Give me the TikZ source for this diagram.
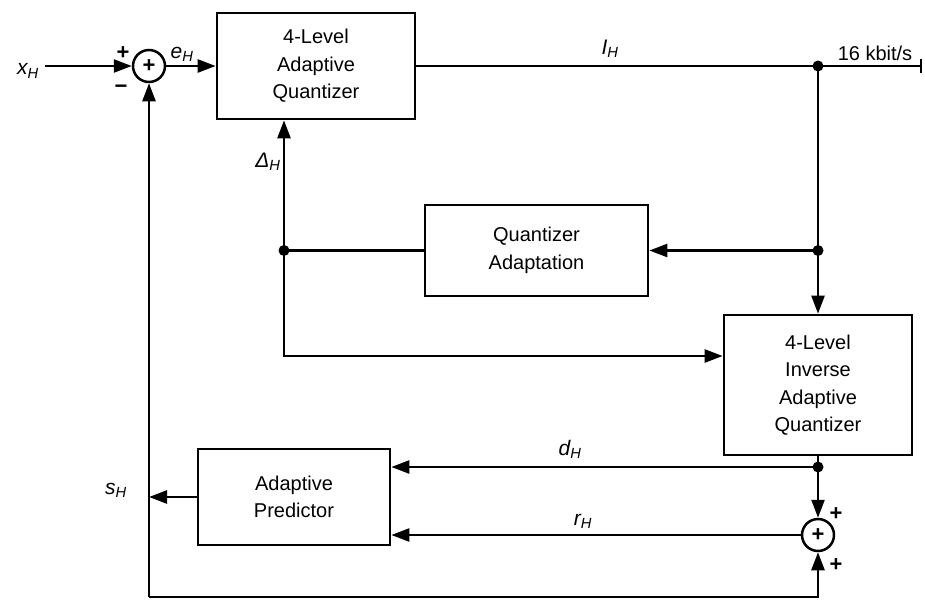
\documentclass[tikz,border=0pt]{standalone}
\usepackage{fontspec}
\setmainfont{Liberation Sans}
\usetikzlibrary{arrows.meta}
\begin{document}
\begin{tikzpicture}[x=1pt,y=-1pt,
  line width=2.5pt,
  >={Triangle[length=18pt,width=13pt]},
  blk/.style={draw, line width=2.7pt, align=center, font=\fontsize{20}{27.5}\selectfont, inner sep=0pt},
  sumnode/.style={draw, circle, minimum size=32pt, inner sep=0pt, line width=2.5pt, font=\fontsize{22}{22}\selectfont\bfseries},
  lbl/.style={font=\fontsize{21}{22}\selectfont\itshape, inner sep=0pt},
  sgn/.style={font=\fontsize{22}{22}\selectfont\bfseries, inner sep=0pt},
  dotn/.style={circle, fill, minimum size=11pt, inner sep=0pt}]
\useasboundingbox (0,0) rectangle (925,613);

% blocks
\node[sumnode] (sum1) at (149,66) {+};
\node[blk, minimum width=198pt, minimum height=106pt] (aq) at (316,66) {4-Level\\Adaptive\\Quantizer};
\node[blk, minimum width=223pt, minimum height=91pt] (qa) at (536.5,250.5) {Quantizer\\Adaptation};
\node[blk, minimum width=188pt, minimum height=140pt] (iaq) at (818,385) {4-Level\\Inverse\\Adaptive\\Quantizer};
\node[blk, minimum width=192pt, minimum height=96pt] (ap) at (294,497) {Adaptive\\Predictor};
\node[sumnode] (sum2) at (818,535) {+};

% coordinates
\coordinate (xin) at (45,66);
\coordinate (j1) at (818,66);
\coordinate (oe) at (921,66);
\coordinate (j2) at (818,250.5);
\coordinate (j3) at (284,250.5);
\coordinate (c1) at (284,356);
\coordinate (j4) at (818,467);
\coordinate (bl) at (143,597);
\coordinate (br) at (818,597);

% connectors
\draw[->] (xin) -- (sum1);
\draw[->] (sum1) -- (aq.west |- sum1);
\draw (aq.east |- j1) -- (j1) -- (oe);
\draw ([yshift=7pt]oe) -- ([yshift=-7pt]oe);
\draw[->] (j1) -- (iaq.north);
\draw[->] (j2) -- (qa.east);
\draw (qa.west) -- (j3);
\draw[->] (j3) -- (j3 |- aq.south);
\draw[->] (j3) -- (c1) -- (c1 -| iaq.west);
\draw (iaq.south) -- (j4);
\draw[->] (j4) -- (j4 -| ap.east);
\draw[->] (j4) -- (sum2);
\draw[->] (sum2) -- (sum2 -| ap.east);
\draw[->] (ap.west) -- (ap.west -| sum1);
\draw[->] (sum1 |- bl) -- (sum1);
\draw[->] (sum1 |- bl) -- (br) -- (sum2);

% junction dots
\node[dotn] at (j1) {};
\node[dotn] at (j2) {};
\node[dotn] at (j3) {};
\node[dotn] at (j4) {};

% labels
\node[lbl] (lx) at (28,71) {x\textsubscript{H}};
\node[lbl] (le) at (182,54) {e\textsubscript{H}};
\node[sgn] (lp1) at (123,53) {+};
\node[sgn] (lm1) at (121,89) {−};
\node[lbl] (li) at (610,49) {I\textsubscript{H}};
\node[font=\fontsize{20}{20}\selectfont, inner sep=0pt] (lr) at (875,53) {16 kbit/s};
\node[lbl] (ld) at (268,162) {Δ\textsubscript{H}};
\node[lbl] (ldh) at (570,449) {d\textsubscript{H}};
\node[lbl] (lrh) at (583,521) {r\textsubscript{H}};
\node[lbl] (ls) at (116,490) {s\textsubscript{H}};
\node[sgn] (lp2) at (836,514) {+};
\node[sgn] (lp3) at (836,565) {+};
\end{tikzpicture}
\end{document}
